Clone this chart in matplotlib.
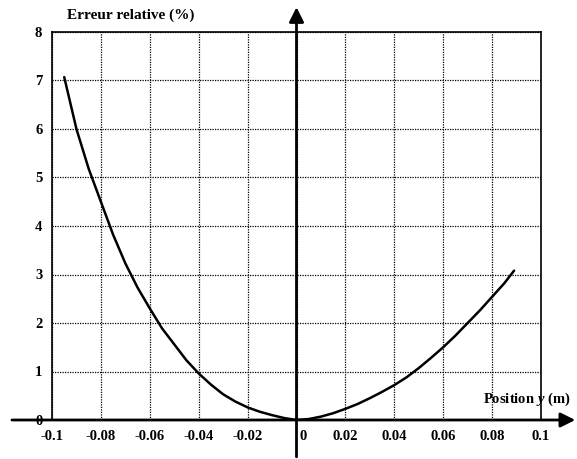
import numpy as np
import matplotlib.pyplot as plt
from matplotlib.transforms import ScaledTranslation

# ======= DADOS =======
pos_y = [-0.095, -0.09, -0.085, -0.08, -0.075, -0.07, -0.065, -0.06, -0.055, -0.05,
         -0.045, -0.04, -0.035, -0.03, -0.025, -0.02, -0.015, -0.01, -0.005, 0.0,
         0.005, 0.01, 0.015, 0.02, 0.025, 0.03, 0.035, 0.04, 0.045, 0.05,
         0.055, 0.06, 0.065, 0.07, 0.075, 0.08, 0.085, 0.089]
erreur = [7.07, 6.0, 5.18, 4.5, 3.82, 3.23, 2.73, 2.30, 1.89, 1.56,
          1.23, 0.96, 0.73, 0.53, 0.38, 0.26, 0.17, 0.10, 0.04, 0.0,
          0.02, 0.07, 0.14, 0.23, 0.33, 0.45, 0.58, 0.72, 0.88, 1.07,
          1.28, 1.50, 1.74, 2.0, 2.26, 2.54, 2.82, 3.08]

xticks = [-0.1, -0.08, -0.06, -0.04, -0.02, 0, 0.02, 0.04, 0.06, 0.08, 0.1]
xlabels = ["-0.1", "-0.08", "-0.06", "-0.04", "-0.02", "0", "0.02", "0.04", "0.06", "0.08", "0.1"]
yticks = [0, 1, 2, 3, 4, 5, 6, 7, 8]

plt.rcParams["font.family"] = "Liberation Serif"
plt.rcParams["font.weight"] = "bold"
plt.rcParams["axes.unicode_minus"] = False
plt.rcParams["mathtext.fontset"] = "custom"
plt.rcParams["mathtext.it"] = "Liberation Serif:italic:bold"
plt.rcParams["mathtext.rm"] = "Liberation Serif:bold"

fig = plt.figure(figsize=(5.77, 4.59), dpi=100)
ax = fig.add_axes([52 / 577, 1 - 420 / 459, 489 / 577, 388 / 459])

ax.plot(pos_y, erreur, color="black", lw=1.8, solid_capstyle="round", solid_joinstyle="round")

ax.set_xlim(-0.1, 0.1)
ax.set_ylim(0, 8)
ax.set_xticks(xticks)
ax.set_xticklabels(xlabels)
ax.set_yticks(yticks)
ax.tick_params(length=0, labelsize=10.5, pad=7)
ax.grid(True, color="black", linestyle=(0, (1, 1)), lw=0.9)

for lab in ax.get_xticklabels():
    if lab.get_text() == "0":
        lab.set_horizontalalignment("left")
        lab.set_transform(lab.get_transform() + ScaledTranslation(3 / 100, 0, fig.dpi_scale_trans))

for s in ["left", "top", "right"]:
    ax.spines[s].set_linewidth(1.2)
ax.spines["bottom"].set_visible(False)

# eixos com setas
ax.annotate("", xy=(1.07, 0), xytext=(-0.082, 0), xycoords="axes fraction",
            arrowprops=dict(arrowstyle="-|>", lw=2, color="black", mutation_scale=22,
                            shrinkA=0, shrinkB=0), annotation_clip=False)
ax.annotate("", xy=(0, 1.064), xytext=(0, -0.095), xycoords=("data", "axes fraction"),
            arrowprops=dict(arrowstyle="-|>", lw=2, color="black", mutation_scale=22,
                            shrinkA=0, shrinkB=0), annotation_clip=False)

ax.text(0.16, 1.044, "Erreur relative (%)", transform=ax.transAxes, ha="center", va="center",
        fontsize=11)
ax.text(0.881, 0.052, "Position $\\mathit{y}$ (m)", transform=ax.transAxes, ha="left", va="center",
        fontsize=10.5)

plt.savefig("out.png", dpi=100)
